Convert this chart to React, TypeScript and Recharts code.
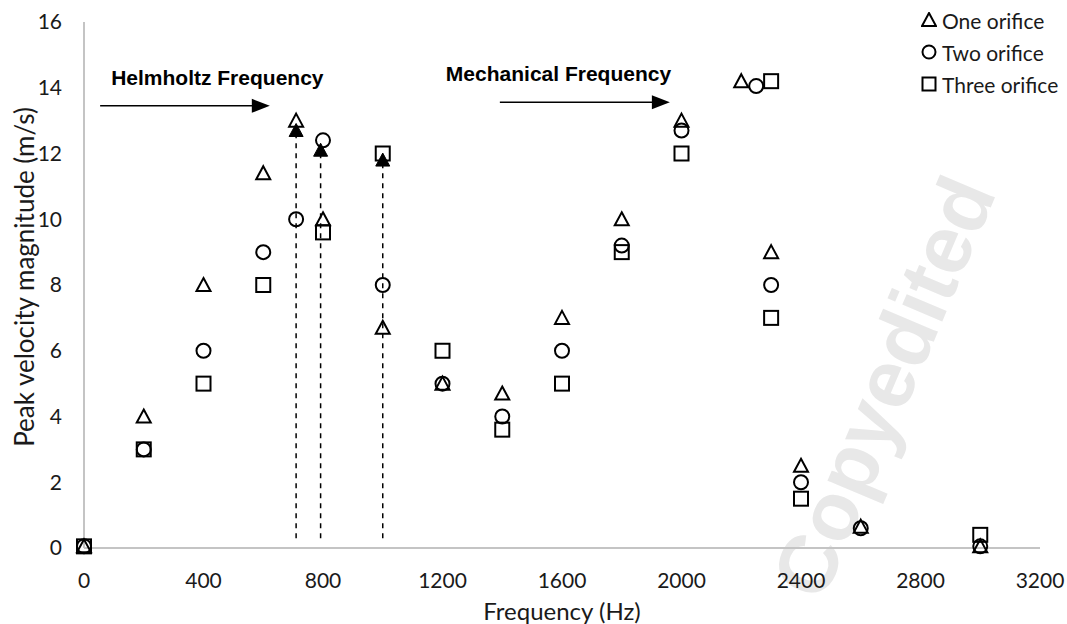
import { ScatterChart, Scatter, XAxis, YAxis, ReferenceLine } from 'recharts';

// frequencies (Hz) and peak velocities (m/s)
const freqOne = [0, 200, 400, 600, 710, 800, 1000, 1200, 1400, 1600, 1800, 2000, 2200, 2300, 2400, 2600, 3000];
const velOne = [0.05, 4, 8, 11.4, 13, 10, 6.7, 5, 4.7, 7, 10, 13, 14.2, 9, 2.5, 0.65, 0.05];

const freqTwo = [0, 200, 400, 600, 710, 800, 1000, 1200, 1400, 1600, 1800, 2000, 2250, 2300, 2400, 2600, 3000];
const velTwo = [0.05, 3, 6, 9, 10, 12.4, 8, 5, 4, 6, 9.2, 12.7, 14.05, 8, 2, 0.6, 0.05];

const freqThree = [0, 200, 400, 600, 800, 1000, 1200, 1400, 1600, 1800, 2000, 2300, 2300, 2400, 3000];
const velThree = [0.05, 3, 5, 8, 9.6, 12, 6, 3.6, 5, 9, 12, 14.2, 7, 1.5, 0.4];

// filled triangles (Helmholtz peaks) with dashed drop lines
const freqPeak = [710, 792, 1000];
const velPeak = [12.7, 12.1, 11.8];

const xTicks = [0, 400, 800, 1200, 1600, 2000, 2400, 2800, 3200];
const yTicks = [0, 2, 4, 6, 8, 10, 12, 14, 16];

const seriesNames = ['One orifice', 'Two orifice', 'Three orifice'];

const toPoints = (xs: number[], ys: number[]) => xs.map((x, i) => ({ x, y: ys[i] }));

const FONT = 'Lato, "Noto Sans", sans-serif';
const INK = '#1a1a1a';

const Tri = (p: any) => {
  const { cx, cy } = p;
  return <path d={`M${cx},${cy - 7} L${cx + 7},${cy + 6} L${cx - 7},${cy + 6} Z`} fill="none" stroke="#000" strokeWidth={2} />;
};
const TriFilled = (p: any) => {
  const { cx, cy } = p;
  return <path d={`M${cx},${cy - 7} L${cx + 7},${cy + 6} L${cx - 7},${cy + 6} Z`} fill="#000" stroke="#000" strokeWidth={1} />;
};
const Circ = (p: any) => <circle cx={p.cx} cy={p.cy} r={7} fill="none" stroke="#000" strokeWidth={2} />;
const Sq = (p: any) => <rect x={p.cx - 7} y={p.cy - 7} width={14} height={14} fill="none" stroke="#000" strokeWidth={2} />;

const arrowShape = (label: string, textDx: number) => (p: any) => {
  const { x1, y1, x2 } = p;
  return (
    <g>
      <line x1={x1} y1={y1} x2={x2 - 16} y2={y1} stroke="#000" strokeWidth={1.5} />
      <polygon points={`${x2},${y1} ${x2 - 18},${y1 - 7} ${x2 - 18},${y1 + 7}`} fill="#000" />
      <text x={x1 + textDx} y={y1 - 21} fontFamily='"Liberation Sans", Arial, sans-serif' fontWeight="bold" fontSize={21} fill="#000">
        {label}
      </text>
    </g>
  );
};

const LegendBox = () => {
  const icons = [
    <path d="M8,1 L15,14 L1,14 Z" fill="none" stroke="#000" strokeWidth={2} />,
    <circle cx={8} cy={8} r={6.5} fill="none" stroke="#000" strokeWidth={2} />,
    <rect x={1.5} y={1.5} width={13} height={13} fill="none" stroke="#000" strokeWidth={2} />,
  ];
  return (
    <div style={{ fontFamily: FONT, fontSize: 21, color: INK }}>
      {seriesNames.map((n, i) => (
        <div key={n} style={{ display: 'flex', alignItems: 'center', height: 32 }}>
          <svg width={16} height={16} style={{ marginRight: 5 }}>{icons[i]}</svg>
          <span>{n}</span>
        </div>
      ))}
    </div>
  );
};

export default function App() {
  return (
    <div style={{ position: 'absolute', left: 0, top: 0, width: 1067, height: 624, overflow: 'hidden', background: '#fff' }}>
      <div
        style={{
          position: 'absolute',
          left: 884 - 250,
          top: 387 - 50,
          width: 500,
          height: 100,
          lineHeight: '100px',
          textAlign: 'center',
          whiteSpace: 'nowrap',
          fontFamily: '"Liberation Sans", Arial, sans-serif',
          fontWeight: 'bold',
          fontSize: 82,
          color: '#e8e8e8',
          transform: 'rotate(-67deg)',
        }}
      >
        Copyedited
      </div>
      <div style={{ position: 'absolute', left: 0, top: 0 }}>
        <ScatterChart width={1067} height={624} margin={{ top: 22, right: 27, bottom: 0, left: 0 }}>
          <XAxis
            type="number"
            dataKey="x"
            domain={[0, 3200]}
            ticks={xTicks}
            height={76}
            axisLine={{ stroke: '#c4c4c4', strokeWidth: 2 }}
            tickLine={false}
            tickSize={8}
            tickMargin={17}
            tick={{ fill: INK, fontSize: 21, fontFamily: FONT }}
            label={{ value: 'Frequency (Hz)', position: 'insideBottom', offset: 4, fill: INK, fontSize: 24, fontFamily: FONT }}
          />
          <YAxis
            type="number"
            dataKey="y"
            domain={[0, 16]}
            ticks={yTicks}
            width={84}
            axisLine={{ stroke: '#c4c4c4', strokeWidth: 2 }}
            tickLine={false}
            tickSize={8}
            tickMargin={14}
            tick={{ fill: INK, fontSize: 21, fontFamily: FONT }}
            label={{ value: 'Peak velocity magnitude (m/s)', angle: -90, position: 'insideLeft', offset: 25, dy: -8, fill: INK, fontSize: 26, fontFamily: FONT, style: { textAnchor: 'middle' } }}
          />
          {freqPeak.map((f, i) => (
            <ReferenceLine
              key={f}
              segment={[{ x: f, y: 0.3 }, { x: f, y: velPeak[i] }]}
              stroke="#000"
              strokeWidth={1.5}
              strokeDasharray="5 5"
            />
          ))}
          <ReferenceLine segment={[{ x: 54, y: 13.45 }, { x: 622, y: 13.45 }]} shape={arrowShape('Helmholtz Frequency', 11)} />
          <ReferenceLine segment={[{ x: 1392, y: 13.56 }, { x: 1961, y: 13.56 }]} shape={arrowShape('Mechanical Frequency', -54)} />
          <Scatter name={seriesNames[0]} data={toPoints(freqOne, velOne)} shape={<Tri />} isAnimationActive={false} />
          <Scatter name={seriesNames[1]} data={toPoints(freqTwo, velTwo)} shape={<Circ />} isAnimationActive={false} />
          <Scatter name={seriesNames[2]} data={toPoints(freqThree, velThree)} shape={<Sq />} isAnimationActive={false} />
          <Scatter name="Helmholtz peak" data={toPoints(freqPeak, velPeak)} shape={<TriFilled />} isAnimationActive={false} />
        </ScatterChart>
      </div>
      <div style={{ position: 'absolute', left: 921, top: 4 }}>
        <LegendBox />
      </div>
    </div>
  );
}
